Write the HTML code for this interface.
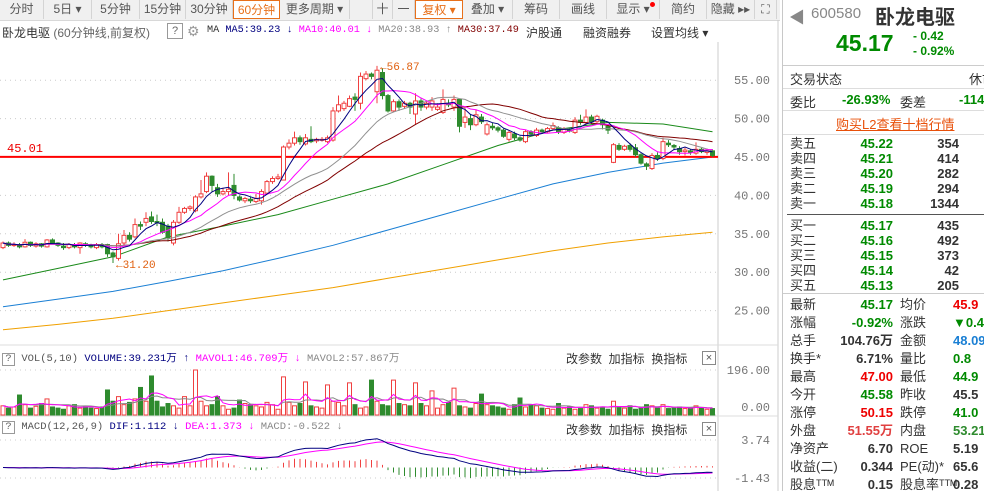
<!DOCTYPE html>
<html><head><meta charset="utf-8">
<style>
body{margin:0;width:984px;height:491px;overflow:hidden;background:#fff;font-family:"Liberation Sans","Noto Sans CJK SC",sans-serif;position:relative}
.tb{position:absolute;top:0;left:0;width:780px;height:20px;background:#f0f0f0;border-bottom:1px solid #d8d8d8}
.btn{position:absolute;top:0;height:19px;line-height:19px;font-size:12px;color:#555;text-align:center;border-right:1px solid #d4d4d4;box-sizing:border-box}
.btn.on{border:1px solid #e8701a;color:#e8701a;background:#fff}
.hd{position:absolute;font-size:12px;white-space:nowrap}
.rp{position:absolute;left:782px;top:0;width:202px;height:491px;border-left:1px solid #c8c8c8;background:#fff}
.r{position:absolute;font-size:13px;white-space:nowrap}
.g{color:#008a00}.rd{color:#e00000}.k{color:#333}
.mono{font-family:"Liberation Mono","Noto Sans CJK SC",monospace}
</style></head><body>
<div class="tb">
<div class="btn" style="left:0;width:44px">分时</div>
<div class="btn" style="left:44px;width:48px">5日 ▾</div>
<div class="btn" style="left:92px;width:48px">5分钟</div>
<div class="btn" style="left:140px;width:46px">15分钟</div>
<div class="btn" style="left:186px;width:47px">30分钟</div>
<div class="btn on" style="left:233px;width:47px">60分钟</div>
<div class="btn" style="left:280px;width:70px">更多周期 ▾</div>
<div class="btn" style="left:372px;width:21px;border-left:1px solid #d4d4d4">十</div>
<div class="btn" style="left:393px;width:22px">一</div>
<div class="btn on" style="left:415px;width:48px">复权 ▾</div>
<div class="btn" style="left:463px;width:50px">叠加 ▾</div>
<div class="btn" style="left:513px;width:47px">筹码</div>
<div class="btn" style="left:560px;width:47px">画线</div>
<div class="btn" style="left:607px;width:53px">显示 ▾<span style="position:absolute;right:4px;top:2px;width:5px;height:5px;border-radius:3px;background:#f00"></span></div>
<div class="btn" style="left:660px;width:47px">简约</div>
<div class="btn" style="left:707px;width:48px">隐藏 ▸▸</div>
<div class="btn" style="left:755px;width:22px">⛶</div>
</div>

<div class="hd" style="left:2px;top:24px;color:#333">卧龙电驱 <span style="color:#666">(60分钟线,前复权)</span></div>
<div class="hd" style="left:167px;top:23px;width:14px;height:14px;border:1px solid #999;font-size:11px;text-align:center;line-height:14px;color:#666">?</div>
<div class="hd" style="left:187px;top:23px;color:#999;font-size:14px">⚙</div>
<div class="hd mono" style="left:207px;top:25px;font-size:10.2px"><span style="color:#333">MA</span> <span style="color:#000080">MA5:39.23 ↓</span> <span style="color:#ff00ff">MA10:40.01 ↓</span> <span style="color:#888">MA20:38.93 ↑</span> <span style="color:#800000">MA30:37.49</span></div>
<div class="hd" style="left:526px;top:24px;color:#333">沪股通</div>
<div class="hd" style="left:583px;top:24px;color:#333">融资融券</div>
<div class="hd" style="left:651px;top:24px;color:#333">设置均线 ▾</div>

<svg id="ch" width="782" height="491" style="position:absolute;left:0;top:0"></svg>

<div class="hd mono" style="left:2px;top:350px;font-size:10.5px"><span style="display:inline-block;width:11px;height:11px;border:1px solid #999;text-align:center;line-height:11px;color:#666">?</span> <span style="color:#555">VOL(5,10)</span> <span style="color:#000080">VOLUME:39.231万 ↑</span> <span style="color:#ff00ff">MAVOL1:46.709万 ↓</span> <span style="color:#888">MAVOL2:57.867万</span></div>
<div class="hd" style="left:566px;top:350px;color:#333">改参数 &nbsp;加指标 &nbsp;换指标</div>
<div class="hd" style="left:702px;top:351px;width:12px;height:12px;border:1px solid #888;font-size:11px;line-height:12px;text-align:center;color:#555">×</div>
<div class="hd mono" style="left:2px;top:421px;font-size:10.5px"><span style="display:inline-block;width:11px;height:11px;border:1px solid #999;text-align:center;line-height:11px;color:#666">?</span> <span style="color:#555">MACD(12,26,9)</span> <span style="color:#000080">DIF:1.112 ↓</span> <span style="color:#ff00ff">DEA:1.373 ↓</span> <span style="color:#888">MACD:-0.522 ↓</span></div>
<div class="hd" style="left:566px;top:421px;color:#333">改参数 &nbsp;加指标 &nbsp;换指标</div>
<div class="hd" style="left:702px;top:422px;width:12px;height:12px;border:1px solid #888;font-size:11px;line-height:12px;text-align:center;color:#555">×</div>

<div class="rp">
<div class="r" style="left:6px;top:4px;color:#888;font-size:16px">◀</div>
<div class="r" style="left:28px;top:5px;color:#888;font-size:15px">600580</div>
<div class="r" style="left:92px;top:1px;color:#333;font-size:20px;font-weight:bold">卧龙电驱</div>
<div class="r g" style="left:53px;top:30px;font-size:23px;font-weight:bold">45.17</div>
<div class="r g" style="left:130px;top:29px;font-size:12px;font-weight:bold">- 0.42</div>
<div class="r g" style="left:130px;top:44px;font-size:12px;font-weight:bold">- 0.92%</div>
<div style="position:absolute;left:0;top:65px;width:202px;border-top:1px solid #ccc"></div>
<div class="r k" style="left:7px;top:69px">交易状态</div>
<div class="r k" style="left:186px;top:69px">休市</div>
<div style="position:absolute;left:0;top:88px;width:202px;border-top:1px solid #ddd"></div>
<div class="r k" style="left:7px;top:92px">委比</div>
<div class="r g" style="left:59px;top:92px;font-weight:bold">-26.93%</div>
<div class="r k" style="left:117px;top:92px">委差</div>
<div class="r g" style="left:176px;top:92px;font-weight:bold">-114</div>
<div style="position:absolute;left:0;top:110px;width:202px;border-top:1px solid #ddd"></div>
<div class="r" style="left:53px;top:114px;color:#e8500a;text-decoration:underline">购买L2查看十档行情</div>
<div style="position:absolute;left:0;top:134px;width:202px;border-top:1px solid #ddd"></div>
<div id="book"></div>
<div style="position:absolute;left:4px;top:214px;width:198px;border-top:1px solid #555"></div>
<div style="position:absolute;left:0;top:293px;width:202px;border-top:1px solid #ccc"></div>
<div id="stats"></div>
</div>

<script>
const opens=[33.2,33.8,33.5,33.6,33.3,33.9,33.4,33.7,33.3,34.2,33.8,33.4,33.2,33.6,33.2,33.7,33.5,33.2,33.6,33.6,32.5,31.8,33.8,34.8,34.6,36.2,36.5,37.2,36.6,36.5,36.0,33.8,36.5,37.8,38.3,38.0,39.8,40.5,42.5,41.0,40.2,40.5,41.3,39.8,39.3,39.5,39.2,39.3,40.3,41.8,42.2,42.0,46.3,46.8,47.5,46.7,47.3,47.1,47.2,47.0,47.2,51.0,51.3,51.6,52.8,52.0,55.2,55.8,53.5,56.0,53.0,51.0,52.2,51.6,52.0,50.6,52.3,51.5,51.5,51.2,50.8,52.0,51.5,52.5,49.5,50.0,49.2,50.2,48.0,49.0,48.8,48.5,47.3,48.0,47.5,47.0,48.3,47.8,48.5,48.3,48.7,48.8,48.2,48.5,48.2,49.8,49.5,50.2,49.6,49.8,49.0,44.3,46.5,46.0,46.5,46.2,45.3,44.1,43.5,45.2,44.8,46.8,46.5,46.1,45.7,45.8,45.5,46.0,45.6,45.8];
const closes=[33.8,33.5,33.6,33.3,33.9,33.5,33.7,33.4,34.2,33.8,33.5,33.2,33.6,33.3,33.8,33.5,33.3,33.6,33.3,32.4,32.0,33.7,34.8,34.3,36.2,36.0,37.0,36.6,36.5,35.2,34.5,36.5,37.8,38.3,38.5,39.8,40.2,42.5,41.3,40.2,40.5,40.8,40.0,39.4,39.6,39.3,39.6,40.5,41.8,42.2,42.4,46.3,46.8,47.5,47.0,47.5,47.0,47.3,47.3,47.5,51.0,51.8,52.0,52.6,52.5,55.5,55.8,55.5,56.3,53.0,51.0,52.2,51.5,52.0,51.5,52.3,51.5,52.0,52.3,51.5,52.5,51.8,52.5,49.0,50.2,49.2,50.5,49.6,49.2,48.8,48.5,47.7,48.2,47.5,47.2,48.3,48.0,48.5,48.3,48.7,49.1,48.3,48.6,48.4,49.8,49.5,50.2,49.6,50.3,49.2,48.5,46.6,46.0,46.4,46.0,45.3,44.2,43.8,45.2,44.8,47.0,46.6,46.3,45.7,45.9,45.6,46.0,45.7,45.8,45.2];
const highs=[34.0,34.0,33.9,33.8,34.3,34.0,33.9,33.8,34.3,34.4,33.9,33.8,33.8,33.8,33.9,33.9,33.7,33.8,33.8,33.7,32.7,35.0,35.5,35.2,37.0,36.6,37.8,37.9,37.5,37.0,36.3,36.8,38.5,38.5,38.7,40.0,42.0,43.0,42.6,41.5,41.0,43.0,42.8,40.0,39.8,39.8,40.2,40.8,42.0,42.5,42.8,46.5,47.3,48.3,47.8,48.0,49.0,47.5,47.6,47.8,51.5,53.0,52.3,53.0,53.3,56.0,56.2,56.0,56.87,56.5,53.2,52.5,52.5,52.3,52.2,53.3,52.6,52.3,52.8,52.0,53.8,52.5,53.0,52.5,51.5,50.5,51.2,50.6,49.5,49.5,49.0,48.7,48.5,48.3,47.7,48.5,48.5,48.8,48.7,48.9,49.5,49.0,48.9,48.8,50.2,50.5,51.2,50.5,50.5,50.0,49.2,46.8,46.8,46.6,46.8,46.7,45.5,44.3,45.5,45.6,47.5,47.2,46.7,46.4,46.2,46.0,46.9,46.2,46.1,46.0];
const lows=[33.0,33.3,33.3,33.1,33.2,33.3,33.2,33.2,33.2,33.6,33.3,32.9,33.0,33.1,32.4,33.3,33.1,33.0,33.1,32.0,31.2,31.5,33.4,34.0,34.4,35.5,36.0,36.3,36.0,35.0,34.0,33.5,36.3,37.6,38.0,37.8,39.6,40.3,40.5,39.8,40.0,40.0,39.5,39.2,39.0,39.0,39.0,38.8,40.1,41.5,42.0,42.0,46.0,46.5,46.6,46.5,46.8,46.8,47.0,46.8,47.0,50.8,51.0,51.5,51.0,51.2,55.0,55.1,52.0,52.5,50.8,50.8,51.0,51.3,50.6,49.2,51.0,51.2,51.0,51.0,50.6,51.5,51.0,48.2,48.8,48.5,49.0,49.3,47.8,48.5,48.2,47.5,47.0,47.2,47.0,46.8,47.8,47.6,48.0,48.1,48.5,48.0,48.0,48.2,48.0,49.2,49.2,49.3,49.4,48.6,48.0,44.2,45.8,45.8,45.7,45.0,44.0,43.3,43.3,44.5,44.6,46.3,45.9,45.3,45.2,45.3,45.3,45.5,45.3,45.0];
const volumes=[40,30,35,87,45,30,38,50,70,35,30,25,40,45,30,35,30,28,35,109,60,80,45,55,70,120,60,170,60,35,50,40,30,80,40,196,60,40,45,80,40,25,30,65,50,45,40,35,55,45,25,166,55,40,50,144,40,35,30,131,60,55,40,140,45,30,35,152,60,45,40,152,50,45,40,140,50,40,105,30,45,55,117,40,35,30,50,91,45,40,35,30,25,45,74,35,45,40,30,28,25,50,30,35,25,28,45,40,30,35,25,60,35,30,40,25,30,45,40,30,45,28,30,35,28,30,40,30,25,28];
const maLongIdx=[0,10,20,30,40,50,60,70,80,90,100,110,120,129];
const ma60=[29,30.5,32,34.6,36,37.5,39.5,41.5,44,46.5,48.5,49.5,49.3,48.3];
const ma120=[25.5,26.5,27.5,28.8,30.2,31.8,33.5,35.5,37.5,39.5,41.5,43,44.2,45];
const ma250=[22.5,23.2,24,25,26,27,28,29.2,30.4,31.6,32.8,33.8,34.6,35.2];
const priceTicks=[55,50,45,40,35,30,25];
const volTicks=[196,0];
const macdTicks=[3.74,-1.43];
const markLine=45.01;

const svg=document.getElementById('ch');
const NS='http://www.w3.org/2000/svg';
function mk(tag,at,parent){const e=document.createElementNS(NS,tag);for(const k in at)e.setAttribute(k,at[k]);(parent||svg).appendChild(e);return e;}
const xOf=i=>3+5.5*i;
const yP=p=>157-(p-45)*7.68;
const yV=v=>415-v*45/196;
const yM=v=>440+(3.74-v)*38/5.17;

let f=mk('line',{x1:718,y1:42,x2:718,y2:491,stroke:'#ccc'});

f=mk('line',{x1:778,y1:20,x2:778,y2:491,stroke:'#ccc'});

f=mk('line',{x1:0,y1:345,x2:778,y2:345,stroke:'#ddd'});

f=mk('line',{x1:0,y1:416,x2:778,y2:416,stroke:'#ddd'});


priceTicks.forEach(p=>{
 const g=mk('line',{x1:0,y1:yP(p),x2:718,y2:yP(p),stroke:'#ccc','stroke-dasharray':'1,4'});
 
 const t=mk('text',{x:770,y:yP(p)+4,'text-anchor':'end','font-size':12,fill:'#777','font-family':'Liberation Mono'});
 t.textContent=p.toFixed(2);
 
});
volTicks.forEach(v=>{
 const yy=v===0?407:yV(v);
 const g=mk('line',{x1:0,y1:v===0?415:yy,x2:718,y2:v===0?415:yy,stroke:'#ccc','stroke-dasharray':'1,4'});
 
 const t=mk('text',{x:770,y:yy+4,'text-anchor':'end','font-size':12,fill:'#777','font-family':'Liberation Mono'});
 t.textContent=v.toFixed(2);
 
});
macdTicks.forEach(v=>{
 const yy=yM(v);
 const g=mk('line',{x1:0,y1:yy,x2:718,y2:yy,stroke:'#ccc','stroke-dasharray':'1,4'});
 
 const t=mk('text',{x:770,y:yy+4,'text-anchor':'end','font-size':12,fill:'#777','font-family':'Liberation Mono'});
 t.textContent=v.toFixed(2);
 
});

function poly(vals,xs,yfn,color,name,w){
 const pts=vals.map((v,k)=>v==null?null:xs(k).toFixed(1)+','+yfn(v).toFixed(1)).filter(Boolean).join(' ');
 const l=mk('polyline',{points:pts,fill:'none',stroke:color,'stroke-width':w||1});
 
}
function sma(arr,n){return arr.map((_,i)=>{const s=Math.max(0,i-n+1);let t=0;for(let j=s;j<=i;j++)t+=arr[j];return t/(i-s+1);});}

poly(ma250,k=>xOf(maLongIdx[k]),yP,'#f0a000','ma250-line');
poly(ma120,k=>xOf(maLongIdx[k]),yP,'#1a7fd4','ma120-line');
poly(ma60,k=>xOf(maLongIdx[k]),yP,'#1a8a1a','ma60-line');

let rl=mk('line',{x1:0,y1:yP(markLine),x2:718,y2:yP(markLine),stroke:'#f00','stroke-width':2});

let rt=mk('text',{x:7,y:yP(markLine)-5,'font-size':12,fill:'#e00','font-family':'Liberation Mono'});
rt.textContent=markLine.toFixed(2);


closes.forEach((c,i)=>{
 const o=opens[i],up=c>=o,x=xOf(i),col=up?'#f04040':'#2e8b2e';
 const top=yP(Math.max(o,c)),bot=yP(Math.min(o,c));
 const w=mk('line',{x1:x,y1:yP(highs[i]),x2:x,y2:top,stroke:col});
 
 const w2=mk('line',{x1:x,y1:bot,x2:x,y2:yP(lows[i]),stroke:col});
 
 const b=mk('rect',{x:x-2,y:top,width:4,height:Math.max(1,bot-top),fill:up?'#fff':col,stroke:col,'stroke-width':1});
 
});
poly(sma(closes,30),xOf,yP,'#800000','ma30-line');
poly(sma(closes,20),xOf,yP,'#909090','ma20-line');
poly(sma(closes,10),xOf,yP,'#ff00ff','ma10-line');
poly(sma(closes,5),xOf,yP,'#000080','ma5-line');

let hiI=highs.indexOf(Math.max(...highs)),loI=lows.indexOf(Math.min(...lows));
let ht=mk('text',{x:xOf(hiI)+3,y:yP(highs[hiI])+4,'font-size':11,fill:'#e06010','font-family':'Liberation Mono'});
ht.textContent='←'+highs[hiI].toFixed(2);

let lt=mk('text',{x:xOf(loI)+3,y:yP(lows[loI])+5,'font-size':11,fill:'#e06010','font-family':'Liberation Mono'});
lt.textContent='←'+lows[loI].toFixed(2);


volumes.forEach((v,i)=>{
 const up=closes[i]>=opens[i],col=up?'#f04040':'#2e8b2e',x=xOf(i);
 const r=mk('rect',{x:x-2,y:yV(v),width:4,height:415-yV(v),fill:up?'#fff':col,stroke:col});
 
});
poly(sma(volumes,10),xOf,yV,'#888','mavol2-line');
poly(sma(volumes,5),xOf,yV,'#ff00ff','mavol1-line');

function ema(arr,n){const a=2/(n+1);let e=arr[0];return arr.map(v=>e=e+a*(v-e));}
const e12=ema(closes,12),e26=ema(closes,26);
const dif=e12.map((v,i)=>v-e26[i]);
const dea=ema(dif,9);
dif.forEach((d,i)=>{
 const h=2*(d-dea[i]),x=xOf(i);
 const l=mk('line',{x1:x,y1:yM(0),x2:x,y2:yM(h),stroke:h>=0?'#f04040':'#2e8b2e'});
 
});
poly(dea,xOf,yM,'#ff00ff','dea-line');
poly(dif,xOf,yM,'#000080','dif-line');

const bookLabels=['卖五','卖四','卖三','卖二','卖一','买一','买二','买三','买四','买五'];
const bookPrices=['45.22','45.21','45.20','45.19','45.18','45.17','45.16','45.15','45.14','45.13'];
const bookVols=['354','414','282','294','1344','435','492','373','42','205'];
const book=document.getElementById('book');
bookLabels.forEach((lb,i)=>{
 const y=i<5?136+i*15:218+(i-5)*15;
 const d=document.createElement('div');
 
 
 d.style.cssText='position:absolute;left:0;top:'+y+'px;width:202px;height:15px;font-size:13px;line-height:15px';
 d.innerHTML='<span style="position:absolute;left:7px;color:#333">'+lb+'</span><span style="position:absolute;right:92px;color:#008a00;font-weight:bold">'+bookPrices[i]+'</span><span style="position:absolute;right:26px;color:#333;font-weight:bold">'+bookVols[i]+'</span>';
 book.appendChild(d);
});
const statL1=['最新','涨幅','总手','换手*','最高','今开','涨停','外盘','净资产','收益(二)','股息ᵀᵀᴹ'];
const statV1=['45.17','-0.92%','104.76万','6.71%','47.00','45.58','50.15','51.55万','6.70','0.344','0.15'];
const statC1=['#008a00','#008a00','#333','#333','#e00','#008a00','#e00','#e04040','#333','#333','#333'];
const statL2=['均价','涨跌','金额','量比','最低','昨收','跌停','内盘','ROE','PE(动)*','股息率ᵀᵀᴹ'];
const statV2=['45.9','▼0.4','48.09亿','0.8','44.9','45.5','41.0','53.21万','5.19','65.6','0.28'];
const statC2=['#e00','#008a00','#1a7fd4','#008a00','#008a00','#333','#008a00','#2e8b2e','#333','#333','#333'];
const st=document.getElementById('stats');
statL1.forEach((lb,i)=>{
 const d=document.createElement('div');
 
 
 d.style.cssText='position:absolute;left:0;top:'+(296+i*18)+'px;width:202px;height:18px;font-size:13px;line-height:18px;white-space:nowrap';
 d.innerHTML='<span style="position:absolute;left:7px;color:#333">'+lb+'</span><span style="position:absolute;right:92px;color:'+statC1[i]+';font-weight:bold">'+statV1[i]+'</span><span style="position:absolute;left:117px;color:#333">'+statL2[i]+'</span><span style="position:absolute;left:170px;color:'+statC2[i]+';font-weight:bold">'+statV2[i]+'</span>';
 st.appendChild(d);
});
</script>
</body></html>
